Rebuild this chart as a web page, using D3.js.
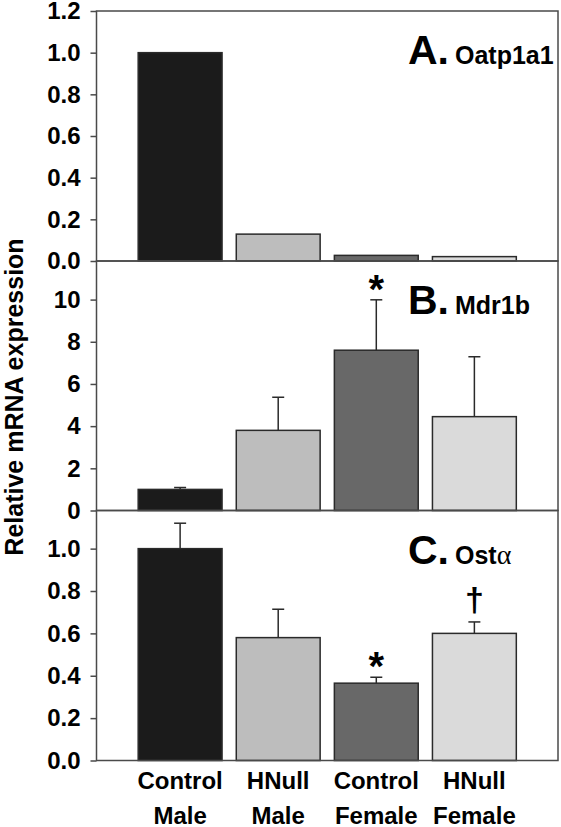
<!DOCTYPE html>
<html><head><meta charset="utf-8">
<script src="https://cdn.jsdelivr.net/npm/d3@7"></script>
<style>body{margin:0;background:#fff}svg{display:block}text{font-family:"Liberation Sans",Arial,sans-serif;font-weight:bold}</style>
</head><body>
<script>
const categories = [["Control","Male"],["HNull","Male"],["Control","Female"],["HNull","Female"]];
const barColors = ["#1b1b1b","#bdbdbd","#686868","#dadada"];

const valuesA = [1.0, 0.129, 0.027, 0.021];
const errA    = [0, 0, 0, 0];
const ticksA  = [0, 0.2, 0.4, 0.6, 0.8, 1.0, 1.2];

const valuesB = [1.0, 3.8, 7.6, 4.45];
const errB    = [0.09, 1.57, 2.39, 2.84];
const ticksB  = [0, 2, 4, 6, 8, 10];

const valuesC = [1.0, 0.58, 0.365, 0.60];
const errC    = [0.12, 0.134, 0.028, 0.054];
const ticksC  = [0, 0.2, 0.4, 0.6, 0.8, 1.0];

const panelLetters = ["A.","B.","C."];
const panelGenes = [["Oatp1a1",""],["Mdr1b",""],["Ost","α"]];
const domainsMax = [1.2, 11.83, 1.18];
const tickFormats = [".1f","d",".1f"];
// significance marks: [panelIndex, categoryIndex, symbol]
const marks = [[1,2,"*"],[2,2,"*"],[2,3,"†"]];

const panels = [
  {values: valuesA, err: errA, ticks: ticksA},
  {values: valuesB, err: errB, ticks: ticksB},
  {values: valuesC, err: errC, ticks: ticksC}
];

const W = 561, H = 827;
const left = 96.5, right = 558;
const tops = [11, 261, 510.5, 760.5];

const svg = d3.select("body").append("svg").attr("width", W).attr("height", H);

const x = d3.scaleBand().domain(d3.range(categories.length)).range([left, right])
  .paddingInner(0.145).paddingOuter(0.425);

panels.forEach((p, i) => {
  const y = d3.scaleLinear().domain([0, domainsMax[i]]).range([tops[i+1], tops[i]]);
  const g = svg.append("g");
  g.selectAll("rect.bar").data(p.values).join("rect")
    .attr("x", (d, j) => x(j)).attr("width", x.bandwidth())
    .attr("y", d => y(d)).attr("height", d => y(0) - y(d))
    .attr("fill", (d, j) => barColors[j]).attr("stroke", "#2a2a2a").attr("stroke-width", 1.5);
  p.values.forEach((v, j) => {
    if (!p.err[j]) return;
    const cx = x(j) + x.bandwidth()/2;
    g.append("line").attr("x1", cx).attr("x2", cx).attr("y1", y(v)).attr("y2", y(v + p.err[j]))
      .attr("stroke", "#2a2a2a").attr("stroke-width", 1.5);
    g.append("line").attr("x1", cx - 6).attr("x2", cx + 6).attr("y1", y(v + p.err[j])).attr("y2", y(v + p.err[j]))
      .attr("stroke", "#2a2a2a").attr("stroke-width", 1.5);
  });
  g.append("rect").attr("x", left).attr("y", tops[i]).attr("width", right - left).attr("height", tops[i+1] - tops[i])
    .attr("fill", "none").attr("stroke", "#4a4a4a").attr("stroke-width", 1.5);
  const ax = svg.append("g").attr("transform", `translate(${left},0)`)
    .call(d3.axisLeft(y).tickValues(p.ticks).tickFormat(d3.format(tickFormats[i])).tickSize(6).tickPadding(10));
  ax.select(".domain").remove();
  ax.selectAll(".tick line").attr("stroke", "#4a4a4a").attr("stroke-width", 1.5);
  ax.selectAll(".tick text").attr("font-size", 24).attr("fill", "#000")
    .attr("font-family", '"Liberation Sans",Arial,sans-serif').attr("font-weight", "bold");
  const t = svg.append("text").attr("x", 408).attr("y", tops[i] + 53).attr("fill", "#000");
  t.append("tspan").attr("font-size", 41).text(panelLetters[i]);
  t.append("tspan").attr("font-size", 25).attr("dx", 6).text(panelGenes[i][0]);
  if (panelGenes[i][1]) {
    t.append("tspan").attr("font-size", 28).attr("font-weight", "normal")
      .attr("font-family", '"Liberation Serif","DejaVu Serif",serif').text(panelGenes[i][1]);
  }
  p.y = y;
});

marks.forEach(([pi, ci, sym]) => {
  const p = panels[pi];
  const cx = x(ci) + x.bandwidth()/2;
  const top = p.y(p.values[ci] + p.err[ci]);
  svg.append("text").attr("x", cx).attr("y", sym === "*" ? top + 3 : top - 11)
    .attr("text-anchor", "middle").attr("font-size", sym === "*" ? 40 : 34).attr("fill", "#000").text(sym);
});

categories.forEach((c, j) => {
  const cx = x(j) + x.bandwidth()/2;
  const t = svg.append("text").attr("text-anchor", "middle").attr("font-size", 24).attr("fill", "#000");
  t.append("tspan").attr("x", cx).attr("y", 789).text(c[0]);
  t.append("tspan").attr("x", cx).attr("y", 824).text(c[1]);
});

svg.append("text").attr("transform", `translate(23,397) rotate(-90)`).attr("text-anchor", "middle")
  .attr("font-size", 25).attr("fill", "#000").text("Relative mRNA expression");
</script>
</body></html>
